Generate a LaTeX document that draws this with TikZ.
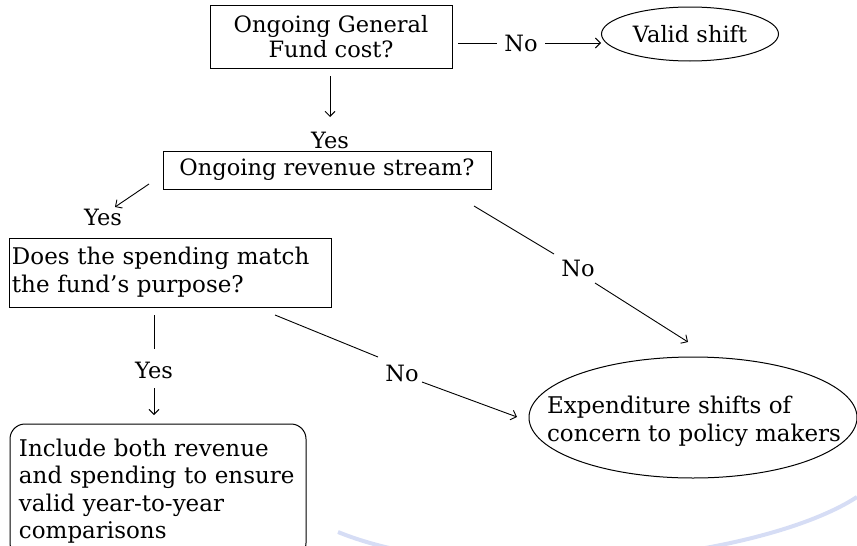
\documentclass[tikz,border=0pt]{standalone}
\usepackage{fontspec}
\setmainfont{DejaVu Serif}
\usetikzlibrary{arrows.meta,shapes.geometric}
\begin{document}
\begin{tikzpicture}[x=1pt,y=-1pt,
  txt/.style={font=\fontsize{22.5}{25}\selectfont,inner sep=1pt},
  qbox/.style={draw,line width=1pt,txt,inner sep=0pt},
  conn/.style={line width=0.9pt},
  arr/.style={line width=0.9pt,-{Straight Barb[length=5pt,width=10pt]}},
  swoosh/.style={color={rgb,255:red,214;green,221;blue,245},line width=4pt}
]
\useasboundingbox (0,0) rectangle (857,546);
\draw[swoosh] (338,532) .. controls (480,590) and (760,560) .. (857,497);

% nodes
\node[qbox,align=center,minimum width=242pt,minimum height=63pt] (q1) at (331,37) {Ongoing General\\Fund cost?};
\node[qbox,ellipse,minimum width=177pt,minimum height=54pt] (valid) at (690,34) {Valid shift};
\node[qbox,minimum width=328pt,minimum height=38pt] (q2) at (327,170) {Ongoing revenue stream?};
\node[qbox,align=left,minimum width=322pt,minimum height=69pt,font=\fontsize{23}{28}\selectfont,inner xsep=3pt,text width=316pt] (q3) at (170,272.5) {Does the spending match\\the fund's purpose?};
\node[qbox,rounded corners=15pt,align=left,minimum width=296pt,minimum height=134pt,font=\fontsize{23}{27.5}\selectfont,inner xsep=9pt,text width=278pt] (incl) at (158,491) {Include both revenue\\and spending to ensure\\valid year-to-year\\comparisons};
\node[qbox,ellipse,minimum width=328pt,minimum height=121pt] (exp) at (693,417.5) {};
\node[txt,align=left,font=\fontsize{23}{28}\selectfont,inner sep=0pt] (expt) at (694,421) {Expenditure shifts of\\concern to policy makers};

% labels
\node[txt] (no1) at (521,43) {No};
\node[txt] (yes1) at (330,140) {Yes};
\node[txt] (yes2) at (103,217) {Yes};
\node[txt] (no2) at (578,268) {No};
\node[txt] (yes3) at (154,370) {Yes};
\node[txt] (no3) at (402,373) {No};

% connector end points
\coordinate (c1a) at (458,43);
\coordinate (c1b) at (497,43);
\coordinate (c1c) at (545,43);
\coordinate (c1d) at (601,43);
\coordinate (c2a) at (330,76);
\coordinate (c2b) at (330,117);
\coordinate (c3a) at (149,184);
\coordinate (c3b) at (115,207);
\coordinate (c4a) at (474,206);
\coordinate (c4b) at (554,254);
\coordinate (c4c) at (595,283);
\coordinate (c4d) at (688,342);
\coordinate (c5a) at (154,315);
\coordinate (c5b) at (154,349);
\coordinate (c5c) at (154,388);
\coordinate (c5d) at (154,415);
\coordinate (c6a) at (275,315);
\coordinate (c6b) at (378,357);
\coordinate (c6c) at (422,382);
\coordinate (c6d) at (517,417);

% connectors
\draw[conn] (c1a) -- (c1b);
\draw[arr] (c1c) -- (c1d);
\draw[arr] (c2a) -- (c2b);
\draw[arr] (c3a) -- (c3b);
\draw[conn] (c4a) -- (c4b);
\draw[arr] (c4c) -- (c4d);
\draw[conn] (c5a) -- (c5b);
\draw[arr] (c5c) -- (c5d);
\draw[conn] (c6a) -- (c6b);
\draw[arr] (c6c) -- (c6d);
\end{tikzpicture}
\end{document}
